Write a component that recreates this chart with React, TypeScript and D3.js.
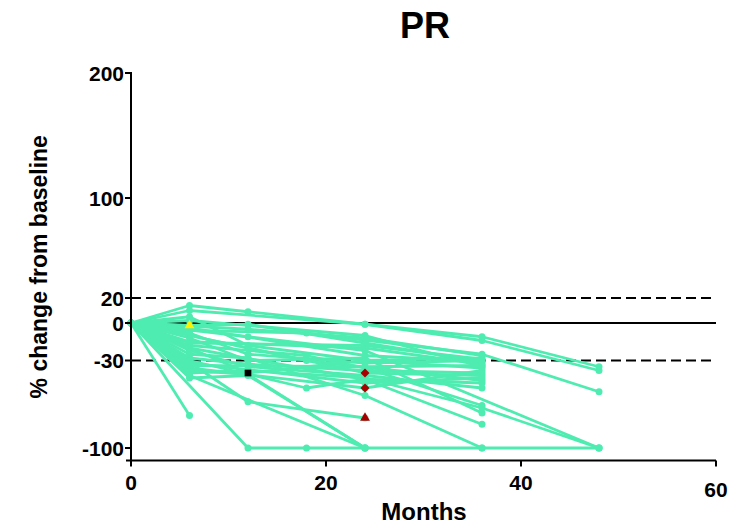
import React from "react";
import * as d3 from "d3";

const title = "PR";
const xLabel = "Months";
const yLabel = "% change from baseline";
const xTicks = [0, 20, 40, 60];
const yTicks = [200, 100, 20, 0, -30, -100];
const dashedRefs = [20, -30];
const solidRefs = [0];

// each patient: list of [month, % change]
const patients: [number, number][][] = [
  [[0, 0], [6, 14], [12, 9], [24, -1], [36, -11], [48, -35]],
  [[0, 0], [6, 10], [24, -1], [36, -14], [48, -38]],
  [[0, 0], [6, -74]],
  [[0, 0], [12, -100], [18, -100], [24, -100], [36, -100], [48, -100]],
  [[0, 0], [6, -42], [24, -100]],
  [[0, 0], [12, -63], [24, -76]],
  [[0, 0], [6, -6], [18, -8], [36, -25], [48, -55]],
  [[0, 0], [12, -40], [24, -30], [36, -36]],
  [[0, 0], [6, -2], [12, -1], [24, -16], [36, -31]],
  [[0, 0], [6, -44], [12, -42], [24, -100]],
  [[0, 0], [6, -30], [18, -52], [24, -45], [36, -48]],
  [[0, 0], [12, -11], [24, -22], [48, -100]],
  [[0, 0], [6, -18], [18, -26], [24, -36], [36, -66]],
  [[0, 0], [6, -25], [12, -28], [24, -58], [36, -100]],
  [[0, 0], [12, -20], [24, -40], [36, -42]],
  [[0, 0], [6, -36], [24, -52], [36, -38]],
  [[0, 0], [6, -12], [12, -30], [24, -28], [36, -72]],
  [[0, 0], [6, -20], [24, -45], [36, -81]],
  [[0, 0], [6, -8], [12, -25], [24, -32], [36, -30]],
  [[0, 0], [6, -15], [24, -20], [36, -33]],
  [[0, 0], [6, 2], [24, -10], [36, -35]],
  [[0, 0], [6, -28], [12, -33], [24, -38], [36, -40]],
  [[0, 0], [6, -32], [24, -48], [36, -44]],
  [[0, 0], [12, -5], [24, -12], [36, -26]],
  [[0, 0], [6, -10], [18, -30], [36, -46]],
  [[0, 0], [6, -22], [12, -35], [24, -42], [36, -52]],
  [[0, 0], [6, -4], [24, -26], [36, -31]],
  [[0, 0], [6, 5], [12, -18], [24, -30], [36, -28]],
  [[0, 0], [6, -34], [24, -35], [36, -34]],
  [[0, 0], [6, -40], [12, -38], [24, -44], [36, -68], [48, -100]],
  [[0, 0], [6, -38], [12, -41], [24, -100]],
  [[0, 0], [6, -16], [24, -18], [36, -29]],
];

// special markers
const yellowTriangles: [number, number][] = [[6, -2]];
const blackSquares: [number, number][] = [[12, -40]];
const redDiamonds: [number, number][] = [[24, -40], [24, -52]];
const redTriangles: [number, number][] = [[24, -76]];

const GREEN = "#4FECB1";
const FONT = "'Liberation Sans', Arial, Helvetica, sans-serif";

export default function App() {
  const W = 741, H = 525;
  const x = d3.scaleLinear().domain([0, 60]).range([131, 716]);
  const y = d3.scaleLinear().domain([-110, 200]).range([460.5, 73]);
  const line = d3.line<[number, number]>().x(d => x(d[0])).y(d => y(d[1]));
  const tri = d3.symbol().type(d3.symbolTriangle).size(42)()!;
  const sq = d3.symbol().type(d3.symbolSquare).size(45)()!;
  const dia = d3.symbol().type(d3.symbolSquare).size(40)()!;

  return (
    <svg width={W} height={H} style={{ position: "absolute", left: 0, top: 0 }} fontFamily={FONT}>
      <rect width={W} height={H} fill="#fff" />
      {dashedRefs.map(v => (
        <line key={"d" + v} x1={x(0)} x2={x(60)} y1={y(v)} y2={y(v)} stroke="#000" strokeWidth={2} strokeDasharray="10,5" />
      ))}
      {solidRefs.map(v => (
        <line key={"s" + v} x1={x(0)} x2={x(60)} y1={y(v)} y2={y(v)} stroke="#000" strokeWidth={2} />
      ))}
      {patients.map((p, i) => (
        <path key={"l" + i} d={line(p) || ""} fill="none" stroke={GREEN} strokeWidth={2.8} strokeLinejoin="round" />
      ))}
      {patients.map((p, i) =>
        p.map((d, j) => <circle key={`c${i}-${j}`} cx={x(d[0])} cy={y(d[1])} r={3.5} fill={GREEN} />)
      )}
      {yellowTriangles.map((d, i) => (
        <path key={"yt" + i} d={tri} transform={`translate(${x(d[0])},${y(d[1])})`} fill="#FFF200" />
      ))}
      {blackSquares.map((d, i) => (
        <path key={"bs" + i} d={sq} transform={`translate(${x(d[0])},${y(d[1])})`} fill="#000" />
      ))}
      {redDiamonds.map((d, i) => (
        <path key={"rd" + i} d={dia} transform={`translate(${x(d[0])},${y(d[1])}) rotate(45)`} fill="#A80000" />
      ))}
      {redTriangles.map((d, i) => (
        <path key={"rt" + i} d={tri} transform={`translate(${x(d[0])},${y(d[1])})`} fill="#A80000" />
      ))}
      <line x1={x(0)} x2={x(0)} y1={y(200) - 1} y2={y(-110)} stroke="#000" strokeWidth={2} />
      {yTicks.map(t => (
        <g key={"yt" + t}>
          <line x1={x(0) - 6} x2={x(0)} y1={y(t)} y2={y(t)} stroke="#000" strokeWidth={2} />
          <text x={x(0) - 7} y={y(t)} dy="0.36em" textAnchor="end" fontSize={21} fontWeight="bold">{t}</text>
        </g>
      ))}
      <line x1={x(0) - 5} x2={x(60)} y1={y(-110)} y2={y(-110)} stroke="#000" strokeWidth={2} />
      {xTicks.map((t, i) => (
        <g key={"xt" + t}>
          <line x1={x(t)} x2={x(t)} y1={y(-110)} y2={y(-110) + 6} stroke="#000" strokeWidth={2} />
          <text x={x(t)} y={y(-110) + (i === xTicks.length - 1 ? 36 : 29)} textAnchor="middle" fontSize={21} fontWeight="bold">{t}</text>
        </g>
      ))}
      <text x={424} y={520} textAnchor="middle" fontSize={24} fontWeight="bold">{xLabel}</text>
      <text transform={`translate(47,${(y(200) + y(-110)) / 2}) rotate(-90)`} textAnchor="middle" fontSize={23} fontWeight="bold">{yLabel}</text>
      <text x={425} y={38} textAnchor="middle" fontSize={36} fontWeight="bold">{title}</text>
    </svg>
  );
}
